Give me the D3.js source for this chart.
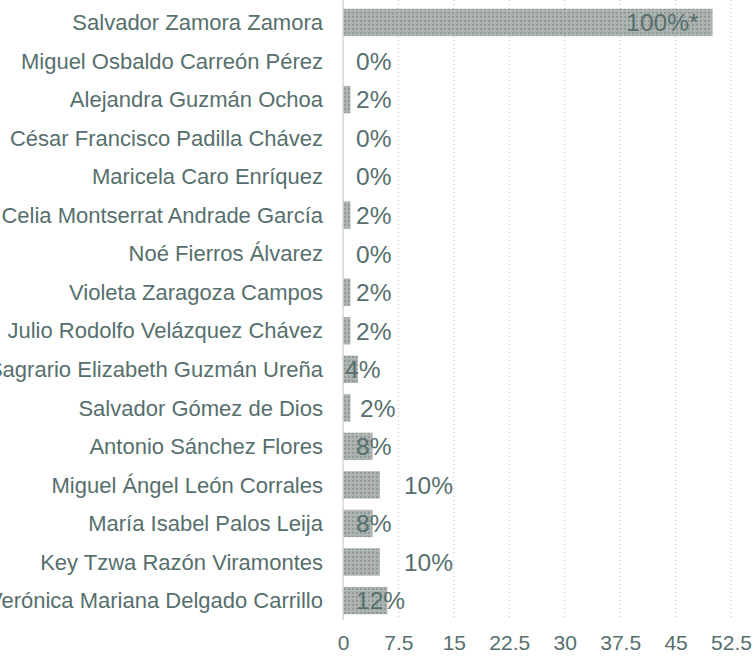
<!DOCTYPE html>
<html>
  <head>
    <meta charset="utf-8">
    <title></title>
    <style>
      body { margin: 0; background: #fff; }
      svg { display: block; }
    </style>
  </head>
  <body>
    <script src="https://d3js.org/d3.v7.min.js"></script>
    <svg id="chart" width="755" height="661"></svg>
    <script>
      const width = 755
      const height = 661
      const margin = { top: 3, right: 24, bottom: 41, left: 343 }

      // candidates, top to bottom
      const names = [
        'Salvador Zamora Zamora',
        'Miguel Osbaldo Carreón Pérez',
        'Alejandra Guzmán Ochoa',
        'César Francisco Padilla Chávez',
        'Maricela Caro Enríquez',
        'Celia Montserrat Andrade García',
        'Noé Fierros Álvarez',
        'Violeta Zaragoza Campos',
        'Julio Rodolfo Velázquez Chávez',
        'Sagrario Elizabeth Guzmán Ureña',
        'Salvador Gómez de Dios',
        'Antonio Sánchez Flores',
        'Miguel Ángel León Corrales',
        'María Isabel Palos Leija',
        'Key Tzwa Razón Viramontes',
        'Verónica Mariana Delgado Carrillo'
      ]
      const values = [50, 0, 1, 0, 0, 1, 0, 1, 1, 2, 1, 4, 5, 4, 5, 6]
      const labels = ['100%*', '0%', '2%', '0%', '0%', '2%', '0%', '2%', '2%', '4%', '2%', '8%', '10%', '8%', '10%', '12%']
      const ticks = [0, 7.5, 15, 22.5, 30, 37.5, 45, 52.5]

      const textColor = '#566f6d'
      const font = 'Liberation Sans, Arial, sans-serif'

      const svg = d3.select('#chart')

      // halftone-ish texture for the bars
      const defs = svg.append('defs')
      const pat = defs.append('pattern')
        .attr('id', 'tex')
        .attr('width', 4).attr('height', 4)
        .attr('patternUnits', 'userSpaceOnUse')
      pat.append('rect').attr('width', 4).attr('height', 4).attr('fill', '#aab1af')
      pat.append('rect').attr('width', 2).attr('height', 2).attr('fill', '#939b99')
      pat.append('rect').attr('x', 2).attr('y', 2).attr('width', 1).attr('height', 1).attr('fill', '#c1c6c4')

      const x = d3.scaleLinear([0, 52.5], [margin.left, width - margin.right])
      const y = d3.scaleBand(names, [margin.top, height - margin.bottom]).paddingInner(0.29).paddingOuter(0.15)

      const plotBottom = height - margin.bottom

      // dotted grid lines
      svg.append('g')
        .selectAll('line')
        .data(ticks.slice(1))
        .join('line')
          .attr('x1', d => x(d)).attr('x2', d => x(d))
          .attr('y1', 0).attr('y2', plotBottom)
          .style('stroke', '#b9bebd')
          .style('stroke-width', 1)
          .style('stroke-dasharray', '1,3')

      const rows = names.map((n, i) => ({ name: n, value: values[i], label: labels[i] }))

      svg.append('g')
        .selectAll('rect')
        .data(rows)
        .join('rect')
          .attr('x', x(0))
          .attr('y', d => y(d.name))
          .attr('width', d => x(d.value) - x(0))
          .attr('height', y.bandwidth())
          .style('fill', 'url(#tex)')

      // zero line
      svg.append('line')
        .attr('x1', x(0)).attr('x2', x(0))
        .attr('y1', 0).attr('y2', plotBottom)
        .style('stroke', '#d3d7d6')
        .style('stroke-width', 1.5)

      // names (long ones run off the left edge, as in the original)
      svg.append('g')
        .selectAll('text')
        .data(rows)
        .join('text')
          .attr('x', x(0) - 20)
          .attr('y', d => y(d.name) + y.bandwidth() / 2)
          .attr('dy', '0.35em')
          .attr('text-anchor', 'end')
          .style('font-family', font)
          .style('font-size', '22px')
          .style('fill', textColor)
          .text(d => d.name)

      // value labels
      svg.append('g')
        .selectAll('text')
        .data(rows)
        .join('text')
          .attr('x', (d, i) => {
            if (i === 0) return x(d.value) - 14
            if (d.value === 5) return x(d.value) + 24
            if (d.value === 2) return x(0) + 2
            if (i === 10) return x(0) + 17
            return x(0) + 13
          })
          .attr('y', d => y(d.name) + y.bandwidth() / 2)
          .attr('dy', '0.36em')
          .attr('text-anchor', (d, i) => i === 0 ? 'end' : 'start')
          .style('font-family', font)
          .style('font-size', '24.5px')
          .style('fill', textColor)
          .text(d => d.label)

      // x axis
      const xAxis = d3.axisBottom(x).tickValues(ticks).tickSize(0).tickPadding(15).tickFormat(d3.format(''))
      svg.append('g')
        .attr('transform', `translate(0,${plotBottom})`)
        .call(xAxis)
        .call(g => g.select('.domain').remove())
        .selectAll('text')
          .style('font-family', font)
          .style('font-size', '21px')
          .style('fill', textColor)
    </script>
  </body>
</html>
